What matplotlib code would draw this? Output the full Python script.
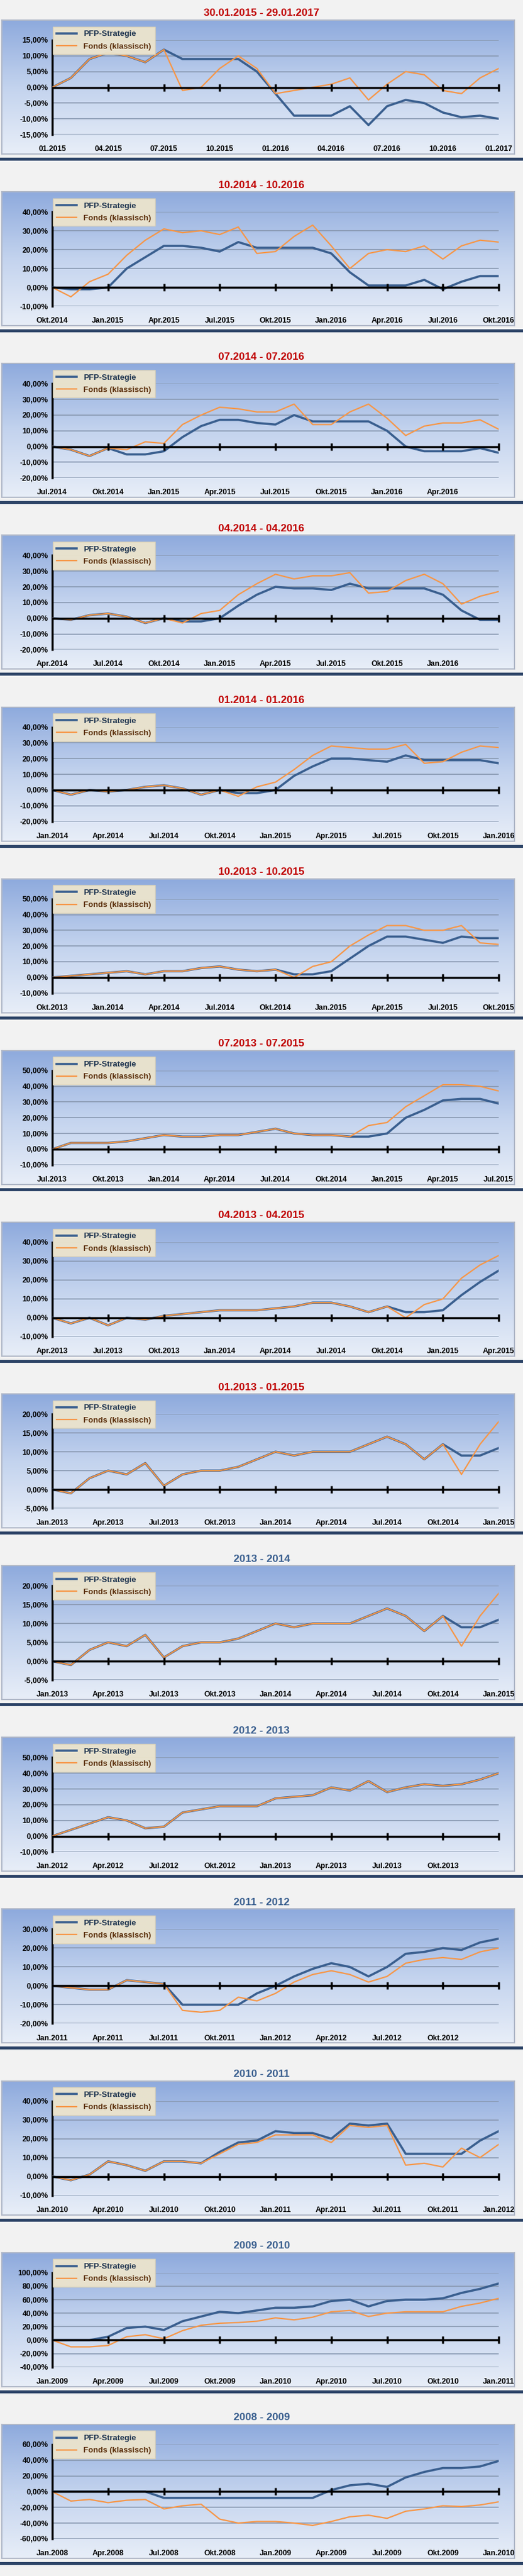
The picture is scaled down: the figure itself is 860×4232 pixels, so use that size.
import numpy as np
import matplotlib
matplotlib.use("Agg")
import matplotlib.pyplot as plt
from matplotlib.lines import Line2D

plt.rcParams['font.family'] = ['Liberation Sans', 'DejaVu Sans']

titles = ["30.01.2015 - 29.01.2017", "10.2014 - 10.2016", "07.2014 - 07.2016",
          "04.2014 - 04.2016", "01.2014 - 01.2016", "10.2013 - 10.2015",
          "07.2013 - 07.2015", "04.2013 - 04.2015", "01.2013 - 01.2015",
          "2013 - 2014", "2012 - 2013", "2011 - 2012", "2010 - 2011",
          "2009 - 2010", "2008 - 2009"]
title_red = [True]*9 + [False]*6

xlabels = [
    ["01.2015", "04.2015", "07.2015", "10.2015", "01.2016", "04.2016", "07.2016", "10.2016", "01.2017"],
    ["Okt.2014", "Jan.2015", "Apr.2015", "Jul.2015", "Okt.2015", "Jan.2016", "Apr.2016", "Jul.2016", "Okt.2016"],
    ["Jul.2014", "Okt.2014", "Jan.2015", "Apr.2015", "Jul.2015", "Okt.2015", "Jan.2016", "Apr.2016"],
    ["Apr.2014", "Jul.2014", "Okt.2014", "Jan.2015", "Apr.2015", "Jul.2015", "Okt.2015", "Jan.2016"],
    ["Jan.2014", "Apr.2014", "Jul.2014", "Okt.2014", "Jan.2015", "Apr.2015", "Jul.2015", "Okt.2015", "Jan.2016"],
    ["Okt.2013", "Jan.2014", "Apr.2014", "Jul.2014", "Okt.2014", "Jan.2015", "Apr.2015", "Jul.2015", "Okt.2015"],
    ["Jul.2013", "Okt.2013", "Jan.2014", "Apr.2014", "Jul.2014", "Okt.2014", "Jan.2015", "Apr.2015", "Jul.2015"],
    ["Apr.2013", "Jul.2013", "Okt.2013", "Jan.2014", "Apr.2014", "Jul.2014", "Okt.2014", "Jan.2015", "Apr.2015"],
    ["Jan.2013", "Apr.2013", "Jul.2013", "Okt.2013", "Jan.2014", "Apr.2014", "Jul.2014", "Okt.2014", "Jan.2015"],
    ["Jan.2013", "Apr.2013", "Jul.2013", "Okt.2013", "Jan.2014", "Apr.2014", "Jul.2014", "Okt.2014", "Jan.2015"],
    ["Jan.2012", "Apr.2012", "Jul.2012", "Okt.2012", "Jan.2013", "Apr.2013", "Jul.2013", "Okt.2013"],
    ["Jan.2011", "Apr.2011", "Jul.2011", "Okt.2011", "Jan.2012", "Apr.2012", "Jul.2012", "Okt.2012"],
    ["Jan.2010", "Apr.2010", "Jul.2010", "Okt.2010", "Jan.2011", "Apr.2011", "Jul.2011", "Okt.2011", "Jan.2012"],
    ["Jan.2009", "Apr.2009", "Jul.2009", "Okt.2009", "Jan.2010", "Apr.2010", "Jul.2010", "Okt.2010", "Jan.2011"],
    ["Jan.2008", "Apr.2008", "Jul.2008", "Okt.2008", "Jan.2009", "Apr.2009", "Jul.2009", "Okt.2009", "Jan.2010"],
]

yranges = [(-15, 15, 5), (-10, 40, 10), (-20, 40, 10), (-20, 40, 10), (-20, 40, 10),
           (-10, 50, 10), (-10, 50, 10), (-10, 40, 10), (-5, 20, 5), (-5, 20, 5),
           (-10, 50, 10), (-20, 30, 10), (-10, 40, 10), (-40, 100, 20), (-60, 60, 20)]

# monthly values (%), month 0..24
pfp = [
    [0, 3, 9, 11, 10, 8, 12, 9, 9, 9, 9, 5, -2, -9, -9, -9, -6, -12, -6, -4, -5, -8, -9.5, -9, -10],
    [0, -1, -1, 0, 10, 16, 22, 22, 21, 19, 24, 21, 21, 21, 21, 18, 8, 1, 1, 1, 4, -1, 3, 6, 6],
    [0, -2, -6, -1, -5, -5, -3, 6, 13, 17, 17, 15, 14, 20, 16, 16, 16, 16, 10, 0, -3, -3, -3, -1, -4],
    [0, -1, 2, 3, 1, -3, 0, -2, -2, 0, 8, 15, 20, 19, 19, 18, 22, 19, 19, 19, 19, 15, 5, -1, -1],
    [0, -3, 0, -1, 0, 2, 3, 1, -3, 0, -2, -2, 0, 9, 15, 20, 20, 19, 18, 22, 19, 19, 19, 19, 17],
    [0, 1, 2, 3, 4, 2, 4, 4, 6, 7, 5, 4, 5, 2, 2, 4, 12, 20, 26, 26, 24, 22, 26, 25, 25],
    [0, 4, 4, 4, 5, 7, 9, 8, 8, 9, 9, 11, 13, 10, 9, 9, 8, 8, 10, 20, 25, 31, 32, 32, 29],
    [0, -3, 0, -4, 0, -1, 1, 2, 3, 4, 4, 4, 5, 6, 8, 8, 6, 3, 6, 3, 3, 4, 12, 19, 25],
    [0, -1, 3, 5, 4, 7, 1, 4, 5, 5, 6, 8, 10, 9, 10, 10, 10, 12, 14, 12, 8, 12, 9, 9, 11],
    [0, -1, 3, 5, 4, 7, 1, 4, 5, 5, 6, 8, 10, 9, 10, 10, 10, 12, 14, 12, 8, 12, 9, 9, 11],
    [0, 4, 8, 12, 10, 5, 6, 15, 17, 19, 19, 19, 24, 25, 26, 31, 29, 35, 28, 31, 33, 32, 33, 36, 40],
    [0, -1, -2, -2, 3, 2, 1, -10, -10, -10, -10, -4, 0, 5, 9, 12, 10, 5, 10, 17, 18, 20, 19, 23, 25],
    [0, -2, 1, 8, 6, 3, 8, 8, 7, 13, 18, 19, 24, 23, 23, 20, 28, 27, 28, 12, 12, 12, 12, 19, 24],
    [0, 0, 0, 5, 18, 20, 15, 28, 35, 42, 40, 44, 48, 48, 50, 58, 60, 50, 58, 60, 60, 62, 70, 76, 84],
    [0, 0, 0, 0, 0, 0, -8, -8, -8, -8, -8, -8, -8, -8, -8, 2, 8, 10, 6, 18, 25, 30, 30, 32, 39],
]
fonds = [
    [0, 3, 9, 11, 10, 8, 12, -1, 0, 6, 10, 6, -2, -1, 0, 1, 3, -4, 1, 5, 4, -1, -2, 3, 6],
    [0, -5, 3, 7, 17, 25, 31, 29, 30, 28, 32, 18, 19, 27, 33, 22, 10, 18, 20, 19, 22, 15, 22, 25, 24],
    [0, -2, -6, -1, -2, 3, 2, 14, 20, 25, 24, 22, 22, 27, 14, 14, 22, 27, 18, 7, 13, 15, 15, 17, 11],
    [0, -1, 2, 3, 1, -3, 0, -3, 3, 5, 15, 22, 28, 25, 27, 27, 29, 16, 17, 24, 28, 22, 9, 14, 17],
    [0, -3, 0, -1, 0, 2, 3, 1, -3, 0, -4, 2, 5, 13, 22, 28, 27, 26, 26, 29, 17, 18, 24, 28, 27],
    [0, 1, 2, 3, 4, 2, 4, 4, 6, 7, 5, 4, 5, 0, 7, 10, 20, 27, 33, 33, 30, 30, 33, 22, 21],
    [0, 4, 4, 4, 5, 7, 9, 8, 8, 9, 9, 11, 13, 10, 9, 9, 8, 15, 17, 27, 34, 41, 41, 40, 37],
    [0, -3, 0, -4, 0, -1, 1, 2, 3, 4, 4, 4, 5, 6, 8, 8, 6, 3, 6, 0, 7, 10, 21, 28, 33],
    [0, -1, 3, 5, 4, 7, 1, 4, 5, 5, 6, 8, 10, 9, 10, 10, 10, 12, 14, 12, 8, 12, 4, 12, 18],
    [0, -1, 3, 5, 4, 7, 1, 4, 5, 5, 6, 8, 10, 9, 10, 10, 10, 12, 14, 12, 8, 12, 4, 12, 18],
    [0, 4, 8, 12, 10, 5, 6, 15, 17, 19, 19, 19, 24, 25, 26, 31, 29, 35, 28, 31, 33, 32, 33, 36, 40],
    [0, -1, -2, -2, 3, 2, 1, -13, -14, -13, -6, -8, -4, 2, 6, 8, 6, 2, 5, 12, 14, 15, 14, 18, 20],
    [0, -2, 1, 8, 6, 3, 8, 8, 7, 12, 17, 18, 22, 22, 22, 18, 27, 26, 27, 6, 7, 5, 15, 10, 17],
    [0, -10, -10, -8, 5, 8, 2, 14, 22, 25, 26, 28, 33, 30, 34, 42, 44, 35, 40, 42, 42, 42, 50, 55, 62],
    [0, -12, -10, -14, -11, -10, -22, -18, -16, -35, -40, -38, -38, -40, -43, -38, -32, -30, -34, -25, -22, -18, -19, -17, -13],
]

W, H = 860, 4232
PH = H / 15.0
fig = plt.figure(figsize=(W/100, H/100), dpi=100)
fig.patch.set_facecolor('#f2f2f2')

def fx(px): return px / W
def fy(py): return 1 - py / H

grad = np.linspace(0, 1, 256).reshape(-1, 1)
from matplotlib.colors import LinearSegmentedColormap
cmap = LinearSegmentedColormap.from_list('g', ['#8eaadd', '#c3d3ee', '#e8eef8'])

PFP_C = '#3a5f8f'
FON_C = '#f79646'

def pct(v):
    return ("%.2f" % v).replace('.', ',') + '%'

for i in range(15):
    top = i * PH
    # title
    fig.text(0.5, fy(top + 22), titles[i], ha='center', va='center',
             fontsize=12.5, fontweight='bold',
             color='#c00000' if title_red[i] else '#3a5f8f')
    # box background
    bx = fig.add_axes([fx(3), fy(top + 253), fx(843), (250 - 33 + 3) / H])
    bx.imshow(grad, aspect='auto', cmap=cmap, extent=[0, 1, 0, 1], origin='upper')
    bx.set_xticks([]); bx.set_yticks([])
    for s in bx.spines.values():
        s.set_color('#b0b8c8'); s.set_linewidth(1.5)
    # separator
    fig.add_artist(Line2D([0, 1], [fy(top + 261), fy(top + 261)], color='#2b4266', lw=3.5))

    ax = fig.add_axes([fx(86), fy(top + 221), fx(820 - 86), (221 - 66) / H])
    ax.set_facecolor('none')
    lo, hi, st = yranges[i]
    yt = np.arange(lo, hi + st / 2, st)
    ax.set_ylim(lo, hi)
    ax.set_xlim(0, 24)
    for y in yt:
        ax.axhline(y, color='#8898b0', lw=1.2, zorder=1)
    months = np.arange(25)
    ax.plot(months, pfp[i], color=PFP_C, lw=2.6, zorder=3, label='PFP-Strategie')
    ax.plot(months, fonds[i], color=FON_C, lw=1.6, zorder=4, label='Fonds (klassisch)')
    ax.axhline(0, color='black', lw=2.5, zorder=5)
    tickx = np.arange(0, 25, 3)
    ax.plot(tickx[1:], np.zeros(len(tickx) - 1), ls='none', marker='|', ms=9, mew=2.5,
            color='black', zorder=6, clip_on=False)
    ax.set_yticks(yt)
    ax.set_yticklabels([pct(v) for v in yt], fontsize=9, fontweight='bold')
    ax.set_xticks(tickx[:len(xlabels[i])])
    ax.set_xticklabels(xlabels[i], fontsize=9, fontweight='bold')
    ax.tick_params(length=0, pad=5)
    ax.tick_params(axis='x', pad=13)
    for s in ['top', 'right', 'bottom']:
        ax.spines[s].set_visible(False)
    ax.spines['left'].set_linewidth(2.5)
    ax.spines['left'].set_color('black')
    leg = ax.legend(loc='upper left', bbox_to_anchor=(fx(80), fy(top + 37)),
                    bbox_transform=fig.transFigure, frameon=True, fancybox=False,
                    fontsize=9.5, prop={'weight': 'bold', 'size': 9.5},
                    handlelength=2.5, borderpad=0.5, labelspacing=0.6)
    leg.get_frame().set_facecolor('#ece4cc')
    leg.get_frame().set_edgecolor('#d8d0b8')
    leg.get_frame().set_alpha(0.95)
    leg.set_zorder(10)
    leg.get_texts()[0].set_color('#1f3550')
    leg.get_texts()[1].set_color('#5a2e0a')

fig.savefig('out.png', dpi=100, facecolor=fig.get_facecolor())
